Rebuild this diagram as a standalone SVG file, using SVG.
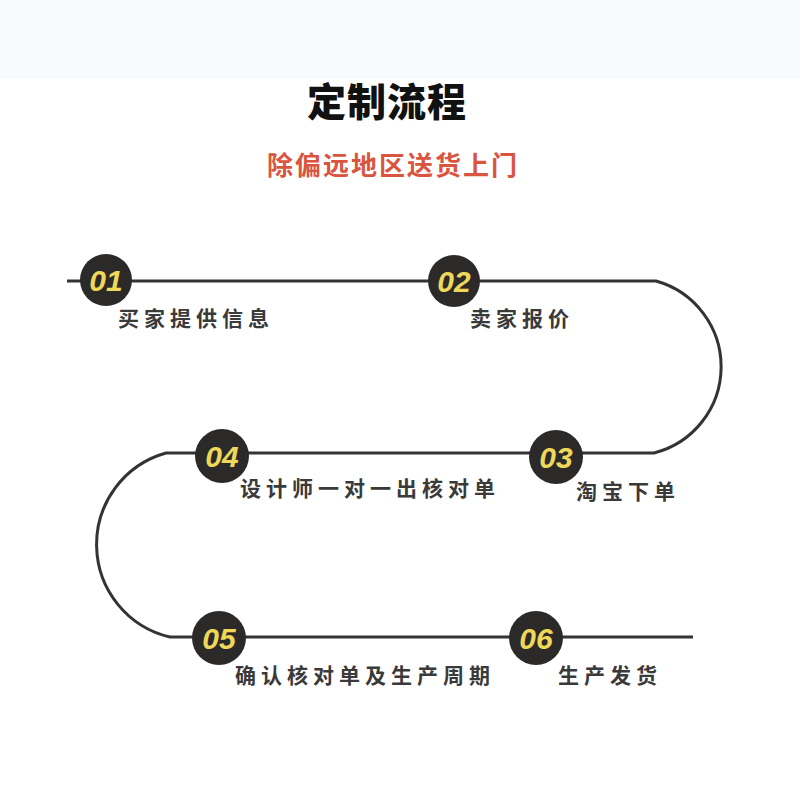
<svg xmlns="http://www.w3.org/2000/svg" width="800" height="800" viewBox="0 0 800 800">
<style>
.bg{fill:#ffffff}
.band{fill:#f9fafc}
.title{font-family:"Noto Sans CJK SC","Noto Sans",sans-serif;font-weight:900;font-size:39px;fill:#111;text-anchor:middle;letter-spacing:1px}
.sub{font-family:"Noto Sans CJK SC","Noto Sans",sans-serif;font-weight:700;font-size:26px;fill:#d9553f;text-anchor:middle;letter-spacing:2px}
.path{fill:none;stroke:#333;stroke-width:3}
.dot{fill:#2b2a28}
.num{font-family:"Liberation Sans",Arial,sans-serif;font-style:italic;font-weight:700;font-size:30px;fill:#eed85a;text-anchor:middle}
.lbl{font-family:"Noto Sans CJK SC","Noto Sans",sans-serif;font-weight:700;font-size:21px;fill:#3a3a3a;letter-spacing:5px}
</style>
<rect class="bg" x="0" y="0" width="800" height="800"/>
<rect class="band" x="0" y="0" width="800" height="79"/>
<text class="title" x="387" y="116">定制流程</text>
<text class="sub" x="393" y="175">除偏远地区送货上门</text>
<g id="connectors">
<path class="path" d="M67 281 H656 A89 89 0 0 1 654 453 H166 A95 95 0 0 0 170 637 H693"/>
</g>
<g id="n1"><circle class="dot" cx="106" cy="280" r="26"/><text class="num" x="106" y="291">01</text><text class="lbl" x="118" y="326">买家提供信息</text></g>
<g id="n2"><circle class="dot" cx="454" cy="281" r="26"/><text class="num" x="454" y="292">02</text><text class="lbl" x="470" y="326">卖家报价</text></g>
<g id="n3"><circle class="dot" cx="556" cy="457" r="27"/><text class="num" x="556" y="468">03</text><text class="lbl" x="576" y="499">淘宝下单</text></g>
<g id="n4"><circle class="dot" cx="222" cy="456" r="27"/><text class="num" x="222" y="467">04</text><text class="lbl" x="240" y="496">设计师一对一出核对单</text></g>
<g id="n5"><circle class="dot" cx="219" cy="638" r="27"/><text class="num" x="219" y="649">05</text><text class="lbl" x="235" y="683">确认核对单及生产周期</text></g>
<g id="n6"><circle class="dot" cx="536" cy="638" r="27"/><text class="num" x="536" y="649">06</text><text class="lbl" x="558" y="683">生产发货</text></g>
</svg>
